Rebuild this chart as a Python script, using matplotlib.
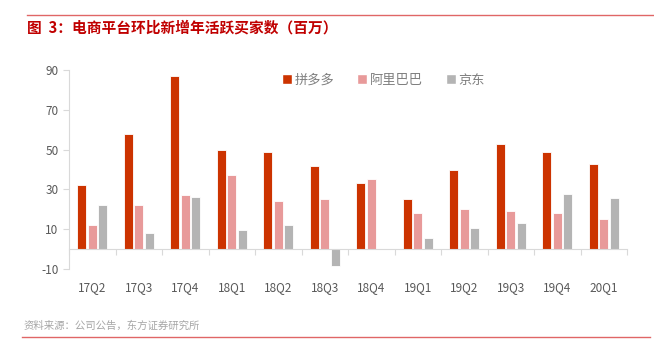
import numpy as np
import matplotlib.pyplot as plt
from matplotlib.lines import Line2D

plt.rcParams['font.family'] = ['Noto Sans CJK SC', 'DejaVu Sans']
plt.rcParams['axes.unicode_minus'] = False

# --- DATA ---
quarters = ['17Q2', '17Q3', '17Q4', '18Q1', '18Q2', '18Q3',
            '18Q4', '19Q1', '19Q2', '19Q3', '19Q4', '20Q1']
pdd = [32, 58, 87, 50, 48.7, 42, 33, 25, 40, 53, 49, 43]
ali = [12, 22, 27, 37, 24, 25, 35, 18, 20, 19, 18, 15]
jd = [22, 8, 26.3, 9.4, 12, -8.5, 0.2, 5.5, 10.8, 13, 27.5, 25.5]
series_names = ['拼多多', '阿里巴巴', '京东']
colors = ['#CC3300', '#E89A9A', '#B4B4B4']
yticks = [-10, 10, 30, 50, 70, 90]

# --- FIGURE ---
fig = plt.figure(figsize=(6.54, 3.54), dpi=100)
ax = fig.add_axes([69 / 654, 1 - 269 / 354, 558 / 654, 199 / 354])

x = np.arange(len(quarters))
width = 0.19
offset = 0.225
for i, (vals, name, c) in enumerate(zip([pdd, ali, jd], series_names, colors)):
    ax.bar(x + (i - 1) * offset, vals, width, color=c, edgecolor='white',
           linewidth=0.6, label=name, zorder=2)

ax.set_xlim(-0.5, len(quarters) - 0.5)
ax.set_ylim(-10, 90)
ax.set_yticks(yticks)

# axis styling
grey = '#D9D9D9'
for s in ['top', 'right']:
    ax.spines[s].set_visible(False)
ax.spines['left'].set_color(grey)
ax.spines['bottom'].set_color(grey)
ax.spines['bottom'].set_position(('data', 0))
ax.tick_params(axis='y', colors=grey, labelcolor='#595959', labelsize=8.5,
               length=4, width=0.8)
ax.set_xticks(x)
ax.set_xticklabels(quarters)
ax.set_xticks(np.arange(-0.5, len(quarters)), minor=True)
ax.tick_params(axis='x', which='major', length=0, pad=23,
               labelcolor='#595959', labelsize=8.5)
ax.tick_params(axis='x', which='minor', length=4, color=grey, width=0.8)

# legend
handles = [Line2D([], [], marker='s', linestyle='', markersize=7,
                  markerfacecolor=c, markeredgecolor='white') for c in colors]
leg = ax.legend(handles, series_names, loc='upper center', ncol=3,
                bbox_to_anchor=(0.562, 1.04), frameon=False, fontsize=9.5,
                handletextpad=0.1, columnspacing=1.6, handlelength=1.0)
for t in leg.get_texts():
    t.set_color('#7F7F7F')

# title, rules and source
fig.add_artist(Line2D([27 / 654, 1], [1 - 15 / 354] * 2, color='#E06666', lw=1))
fig.text(27 / 654, 1 - 28 / 354, '图  3：电商平台环比新增年活跃买家数（百万）',
         color='#C00000', fontsize=10.6, fontweight='bold', va='center')
fig.add_artist(Line2D([22 / 654, 650 / 654], [1 - 337 / 354] * 2,
                      color='#E06666', lw=1))
fig.text(24 / 654, 1 - 326 / 354, '资料来源：公司公告，东方证券研究所',
         color='#A6A6A6', fontsize=7.5, va='center')

fig.savefig('out.png', dpi=100)
